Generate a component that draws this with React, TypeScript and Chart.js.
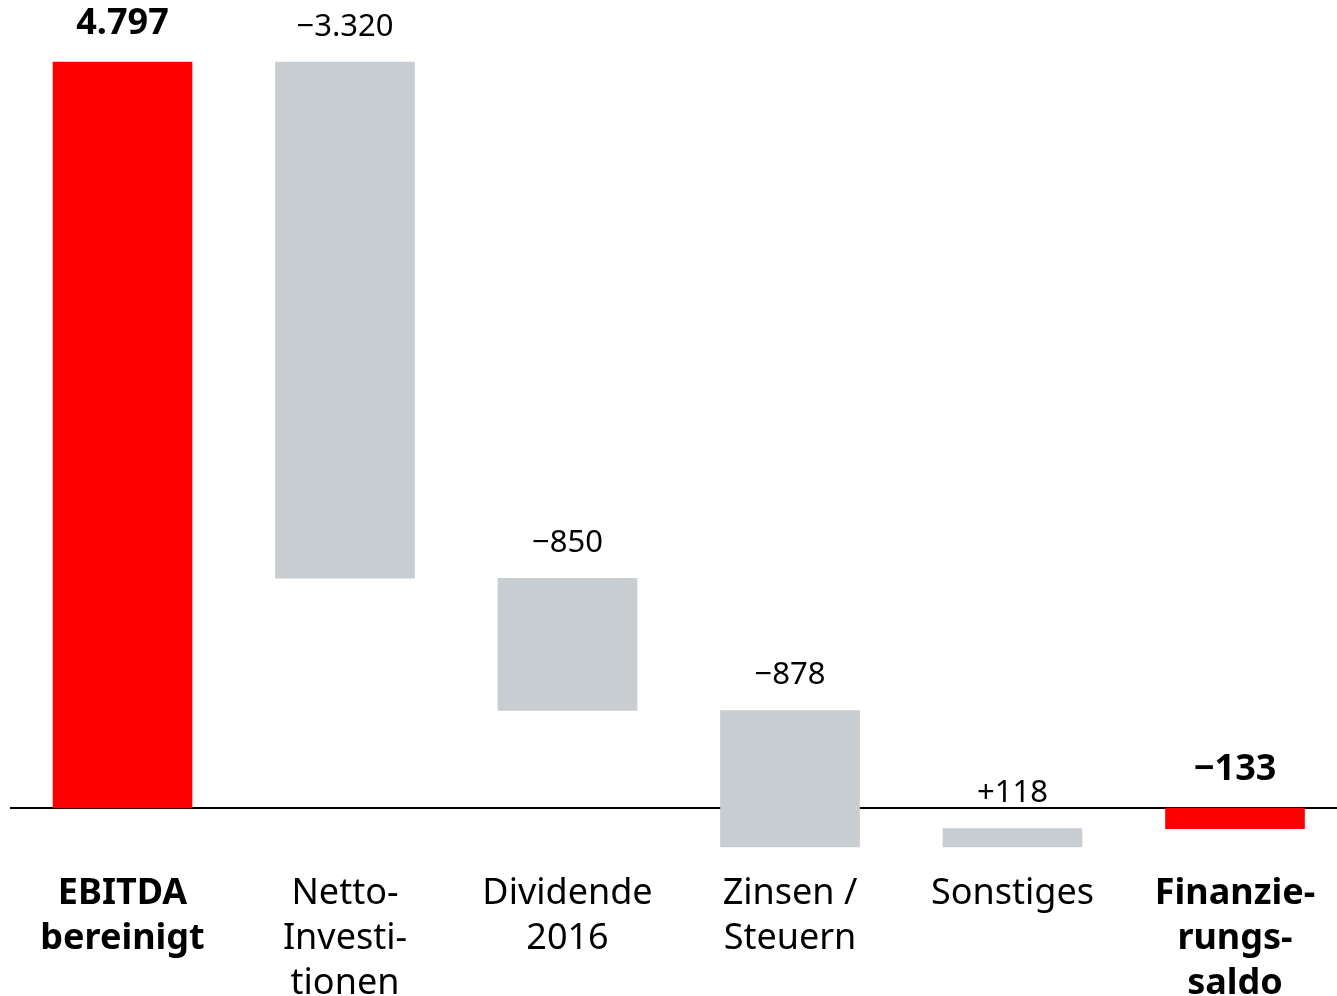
import React, { useEffect, useRef } from "react";
import { Chart, registerables } from "chart.js";

Chart.register(...registerables);

const categories: string[][] = [
  ["EBITDA", "bereinigt"],
  ["Netto-", "Investi-", "tionen"],
  ["Dividende", "2016"],
  ["Zinsen /", "Steuern"],
  ["Sonstiges"],
  ["Finanzie-", "rungs-", "saldo"],
];
const startValue = 4797;
const changes = [-3320, -850, -878, 118];
const resultValue = -133;
const totalIdx = [0, 5];

const RED = "#FF0000";
const GREY = "#C8CDD1";
const FONT = "'Noto Sans', sans-serif";

function fmt(v: number, sign: boolean) {
  const a = Math.abs(v)
    .toString()
    .replace(/\B(?=(\d{3})+(?!\d))/g, ".");
  if (v < 0) return "\u2212" + a;
  return (sign ? "+" : "") + a;
}

export default function App() {
  const ref = useRef<HTMLCanvasElement>(null);
  useEffect(() => {
    if (!ref.current) return;
    const ranges: [number, number][] = [];
    const labels: string[] = [];
    ranges.push([0, startValue]);
    labels.push(fmt(startValue, false));
    let cur = startValue;
    for (const c of changes) {
      ranges.push([cur, cur + c]);
      labels.push(fmt(c, true));
      cur += c;
    }
    ranges.push([0, resultValue]);
    labels.push(fmt(resultValue, false));

    const plugin = {
      id: "wf",
      beforeDatasetsDraw(chart: any) {
        const { ctx } = chart;
        const y = chart.scales.y.getPixelForValue(0);
        ctx.save();
        ctx.strokeStyle = "#000";
        ctx.lineWidth = 2;
        ctx.beginPath();
        ctx.moveTo(10, y);
        ctx.lineTo(1337, y);
        ctx.stroke();
        ctx.restore();
      },
      afterDatasetsDraw(chart: any) {
        const { ctx } = chart;
        const meta = chart.getDatasetMeta(0);
        const ys = chart.scales.y;
        ctx.save();
        ctx.fillStyle = "#000";
        ctx.textAlign = "center";
        ctx.textBaseline = "middle";
        meta.data.forEach((bar: any, i: number) => {
          const r = ranges[i];
          const bold = totalIdx.includes(i);
          const topPx = ys.getPixelForValue(Math.max(r[0], r[1]));
          ctx.font = (bold ? "bold 36px " : "31px ") + FONT;
          ctx.fillText(labels[i], bar.x, topPx - (bold ? 38 : 35));
        });
        ctx.restore();
      },
    };

    const chart = new Chart(ref.current, {
      type: "bar",
      data: {
        labels: categories as any,
        datasets: [
          {
            data: ranges as any,
            backgroundColor: ranges.map((_, i) => (totalIdx.includes(i) ? RED : GREY)),
            barThickness: 139,
            borderSkipped: false,
            borderWidth: 0,
            clip: false as any,
          },
        ],
      },
      options: {
        animation: false,
        responsive: false,
        maintainAspectRatio: false,
        layout: { padding: { left: 122.5, right: 102, top: 0, bottom: 0 } },
        plugins: { legend: { display: false }, tooltip: { enabled: false } },
        scales: {
          x: {
            offset: false,
            grid: { display: false, drawTicks: false },
            border: { display: false },
            afterFit: (s: any) => {
              s.height = 126;
            },
            ticks: {
              autoSkip: false,
              maxRotation: 0,
              minRotation: 0,
              padding: 1,
              color: "#000",
              font: (ctx: any) => ({
                family: FONT,
                size: 36,
                lineHeight: 1.25,
                weight: totalIdx.includes(ctx.index) ? "bold" : "normal",
              }),
            },
          },
          y: {
            display: false,
            min: -399,
            max: 5196,
          },
        },
      },
      plugins: [plugin],
    });
    return () => chart.destroy();
  }, []);
  return (
    <div style={{ position: "absolute", left: 0, top: 0, width: 1337, height: 996 }}>
      <canvas ref={ref} width={1337} height={996} />
    </div>
  );
}
